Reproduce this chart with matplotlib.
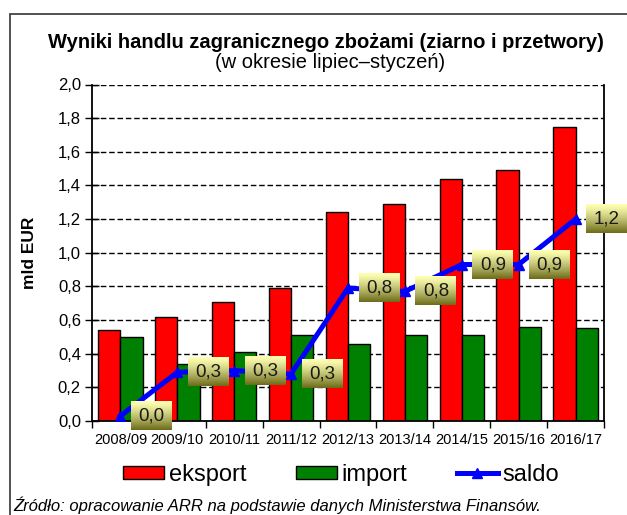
import numpy as np
import matplotlib
matplotlib.use('Agg')
import matplotlib.pyplot as plt
from matplotlib.patches import Rectangle

plt.rcParams['font.family'] = ['Liberation Sans', 'DejaVu Sans']

# dane (mld EUR)
lata = ['2008/09', '2009/10', '2010/11', '2011/12', '2012/13',
        '2013/14', '2014/15', '2015/16', '2016/17']
eksport = [0.54, 0.62, 0.71, 0.79, 1.24, 1.29, 1.44, 1.49, 1.75]
importy = [0.50, 0.34, 0.41, 0.51, 0.46, 0.51, 0.51, 0.56, 0.55]
saldo = [0.03, 0.29, 0.30, 0.28, 0.79, 0.77, 0.93, 0.93, 1.20]
etykiety = ['0,0', '0,3', '0,3', '0,3', '0,8', '0,8', '0,9', '0,9', '1,2']
yticks = [0.0, 0.2, 0.4, 0.6, 0.8, 1.0, 1.2, 1.4, 1.6, 1.8, 2.0]

W, H = 627, 515
fig = plt.figure(figsize=(W / 100, H / 100), dpi=100)
ax = fig.add_axes([92 / W, 1 - 421 / H, 512 / W, 336.5 / H])

x = np.arange(len(lata))
bw = 0.39
b1 = ax.bar(x - bw / 2, eksport, bw, color='#ff0000', edgecolor='black', linewidth=1, zorder=2)
b2 = ax.bar(x + bw / 2, importy, bw, color='#008000', edgecolor='black', linewidth=1, zorder=2)
l1, = ax.plot(x, saldo, color='#0000ff', lw=3.6, marker='^', ms=7, zorder=3)

ax.set_xlim(-0.5, len(lata) - 0.5)
ax.set_ylim(0, 2.0)

# etykiety saldo w polach z gradientem
grad = np.linspace(0, 1, 64) ** 1.3
top = np.array([1.0, 1.0, 0.70])
bot = np.array([0.42, 0.42, 0.10])
img = (top[None, :] * (1 - grad[:, None]) + bot[None, :] * grad[:, None])[:, None, :]
bwid, bhei = 0.72, 0.167
for i, (v, t) in enumerate(zip(saldo, etykiety)):
    cx = i + 0.545
    ax.imshow(img, extent=[cx - bwid / 2, cx + bwid / 2, v - bhei / 2, v + bhei / 2],
              aspect='auto', zorder=4, clip_on=False, interpolation='bilinear')
    ax.text(cx, v, t, ha='center', va='center', fontsize=13.5, color='#1a1a1a', zorder=5, clip_on=False)

ax.set_xlim(-0.5, len(lata) - 0.5)
ax.set_ylim(0, 2.0)

ax.set_yticks(yticks)
ax.set_yticklabels([f'{v:.1f}'.replace('.', ',') for v in yticks], fontsize=12)
ax.set_xticks(x)
ax.set_xticklabels(lata, fontsize=10.5)
ax.set_xticks(np.arange(-0.5, len(lata)), minor=True)
ax.tick_params(axis='x', which='major', length=0, pad=9)
ax.tick_params(axis='x', which='minor', direction='out', length=5, width=1)
ax.tick_params(axis='y', direction='inout', length=10, width=1, pad=3)

ax.yaxis.grid(True, linestyle=(0, (4, 2)), color='black', linewidth=1)
ax.set_axisbelow(True)
ax.spines['top'].set_visible(False)
for s in ['left', 'right', 'bottom']:
    ax.spines[s].set_linewidth(1.3)

ax.set_ylabel('mld EUR', fontsize=12.5, fontweight='bold')
ax.yaxis.set_label_coords(-55 / 512, 0.5)

fig.text(326 / W, 1 - 42 / H, 'Wyniki handlu zagranicznego zbożami (ziarno i przetwory)',
         ha='center', va='center', fontsize=14.5, fontweight='bold')
fig.text(330 / W, 1 - 63 / H, '(w okresie lipiec–styczeń)', ha='center', va='center', fontsize=14.5)

fig.legend([b1, b2, l1], ['eksport', 'import', 'saldo'], loc='center',
           bbox_to_anchor=(341 / W, 1 - 475 / H), ncol=3, frameon=False,
           fontsize=17, handlelength=1.74, handleheight=0.5, handletextpad=0.2,
           columnspacing=2.1)

fig.text(13 / W, 1 - 505 / H, 'Źródło: opracowanie ARR na podstawie danych Ministerstwa Finansów.',
         ha='left', va='center', fontsize=12, style='italic')

# ramka wykresu
fig.patches.append(Rectangle((10 / W, -0.1), 1.0, 1 - 14 / H + 0.1, transform=fig.transFigure,
                             fill=False, edgecolor='#333333', linewidth=1.2))

fig.savefig('out.png', dpi=100)
